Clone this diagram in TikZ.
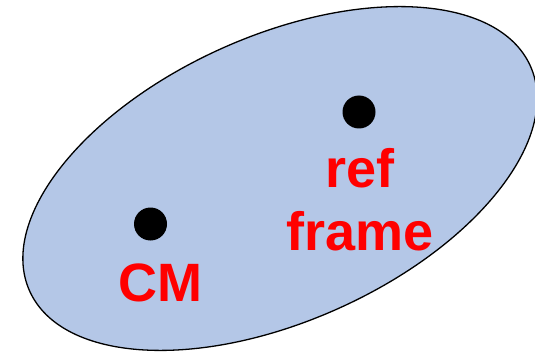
\documentclass[tikz,border=0pt]{standalone}
\usepackage{fontspec}
\setmainfont{Liberation Sans}
\usepackage{xcolor}
\usetikzlibrary{positioning,shapes.geometric}
\definecolor{IBlue}{HTML}{B4C7E7}
\definecolor{IRed}{HTML}{FF0000}

\begin{document}
\begin{tikzpicture}[x=1pt, y=1pt,
  body/.style={draw=black, line width=1.3pt, fill=IBlue},
  dotmark/.style={circle, fill=black, inner sep=0pt, minimum size=33pt},
  lbl/.style={text=IRed, align=center, inner sep=0pt,
              font=\fontsize{54}{63}\selectfont\bfseries}]
\useasboundingbox (0,0) rectangle (535,354);
\node[body, ellipse, minimum width=549pt, minimum height=285pt, rotate=24.2] (blob) at (280,175.5) {};
\node[dotmark] (refdot) at (359,242) {};
\node[dotmark] (cmdot) at (150.5,130) {};
\node[lbl, anchor=base] (reflbl) at (360,104) {ref\\frame};
\node[lbl, anchor=base] (cmlbl) at (160,52.3) {CM};
\end{tikzpicture}
\end{document}
